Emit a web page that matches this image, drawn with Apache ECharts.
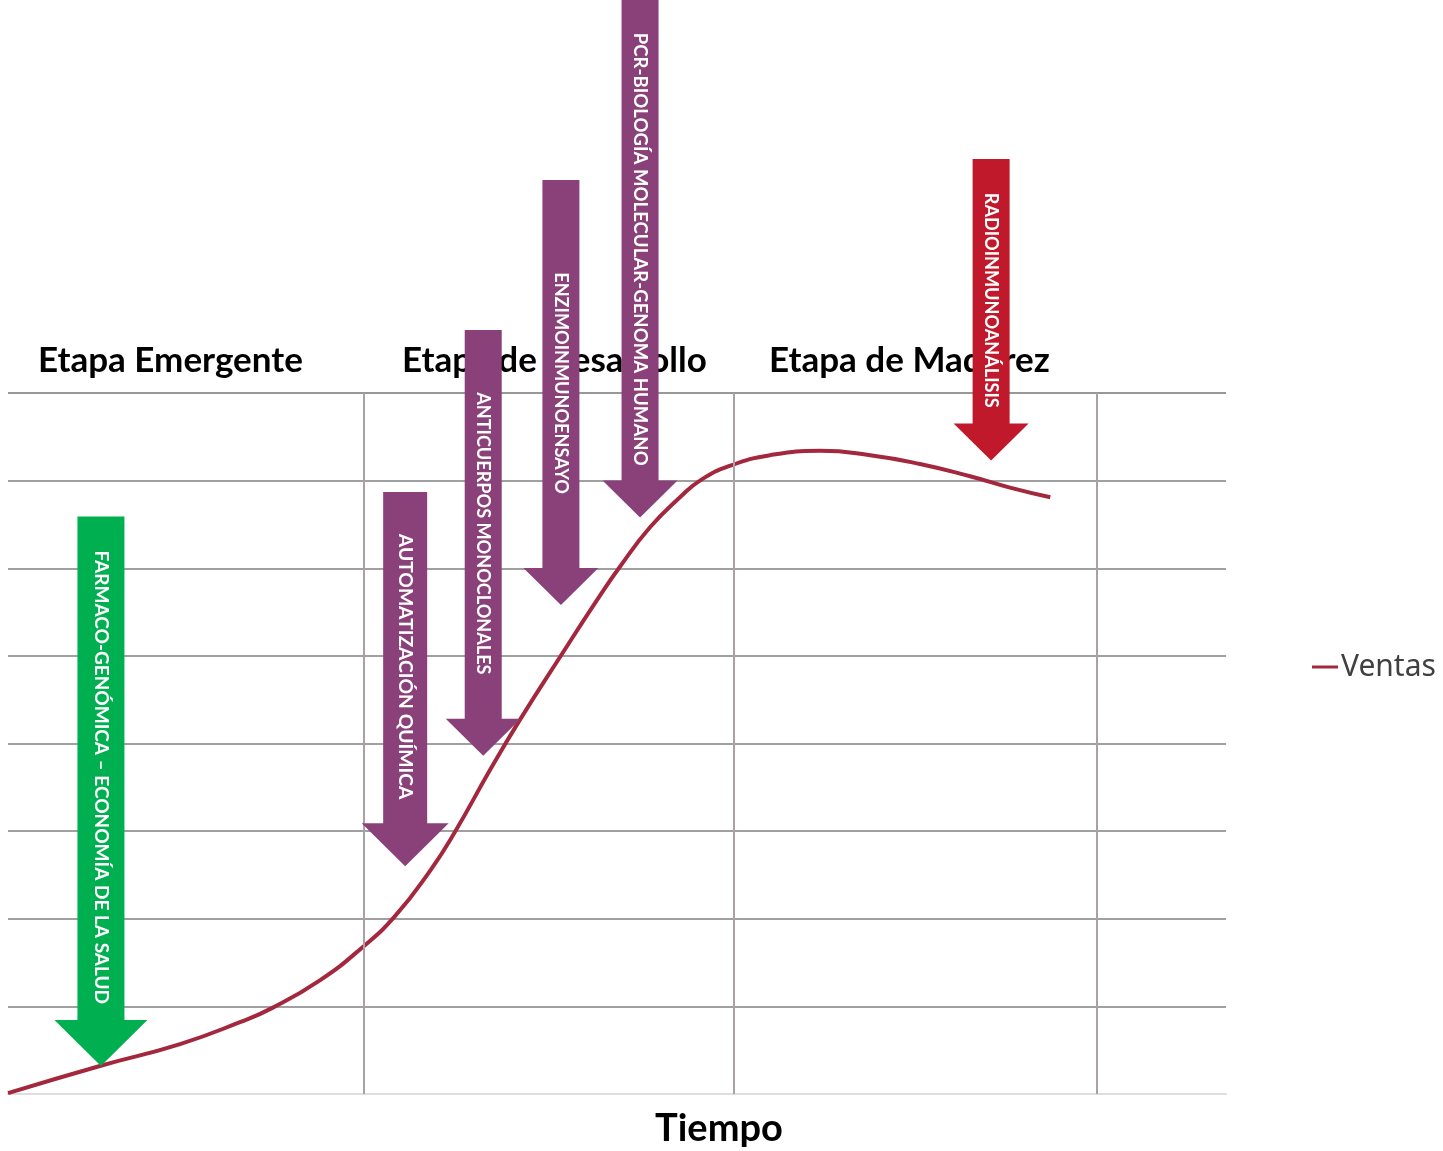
<!DOCTYPE html>
<html><head><meta charset="utf-8">
<script src="https://cdn.jsdelivr.net/npm/echarts@6/dist/echarts.min.js"></script>
<style>html,body{margin:0;padding:0;background:#fff}#c{width:1443px;height:1151px}</style>
</head><body><div id="c"></div>
<script>
// ---- data ----
const timeX  = [0, 0.253, 0.474, 0.639, 0.727, 0.860, 0.975, 1.066, 1.163, 1.231, 1.328, 1.410, 1.521, 1.631, 1.686, 1.769, 1.851, 1.906, 1.989, 2.099, 2.237, 2.375, 2.512, 2.650, 2.760, 2.871];
const ventas = [0.01, 0.32, 0.57, 0.82, 0.98, 1.30, 1.67, 2.03, 2.55, 2.99, 3.70, 4.27, 4.99, 5.69, 6.02, 6.47, 6.81, 7.00, 7.17, 7.29, 7.34, 7.29, 7.19, 7.05, 6.92, 6.81];
const seriesName = 'Ventas';
const stageBounds = [0.981, 2.003, 3.0];
const stageNames = ['Etapa Emergente', 'Etapa de Desarrollo', 'Etapa de Madurez'];
const axisTitle = 'Tiempo';
const arrowLabels = ['FARMACO-GENÓMICA – ECONOMÍA DE LA SALUD', 'AUTOMATIZACIÓN QUÍMICA', 'ANTICUERPOS MONOCLONALES', 'ENZIMOINMUNOENSAYO', 'PCR-BIOLOGÍA MOLECULAR-GENOMA HUMANO', 'RADIOINMUNOANÁLISIS'];
const arrowX   = [0.256, 1.094, 1.309, 1.523, 1.741, 2.708];
const arrowTop = [6.59, 6.87, 8.72, 10.43, 12.52, 10.67];
const arrowTip = [0.32, 2.60, 3.86, 5.58, 6.58, 7.23];

// ---- styles ----
const arrowColor = ['#00b050', '#8a4079', '#8a4079', '#8a4079', '#8a4079', '#c0192b'];
const arrowSize = [ // shaft width, head width, head height
  [47, 93, 46], [44, 87, 43], [37, 75, 37], [37, 75, 37], [37, 75, 37], [37, 75, 37]
];
const arrowFont = [19, 19.3, 18.1, 18.1, 18.6, 18.1];

const chart = echarts.init(document.getElementById('c'), null, {renderer: 'canvas'});
const base = {
  animation: false,
  backgroundColor: '#ffffff',
  grid: {left: 8, right: 217, top: 393, bottom: 57},
  legend: {
    data: [seriesName], left: 1307, top: 647, icon: 'rect', itemWidth: 26, itemHeight: 3, itemGap: 4,
    textStyle: {fontFamily: 'Noto Sans', fontSize: 30, color: '#404040', padding: [0, 0, 0, -2]}
  },
  xAxis: {
    type: 'value', min: 0, max: 3.355, interval: 1,
    axisLabel: {show: false}, axisTick: {show: false},
    axisLine: {show: true, lineStyle: {color: '#dedede', width: 2}},
    splitLine: {show: false}
  },
  yAxis: {
    type: 'value', min: 0, max: 8, interval: 1,
    axisLabel: {show: false}, axisTick: {show: false}, axisLine: {show: false},
    splitLine: {show: true, lineStyle: {color: ['#dedede', '#a0a0a0', '#a0a0a0', '#a0a0a0', '#a0a0a0', '#a0a0a0', '#a0a0a0', '#a0a0a0', '#989898'], width: 2}}
  },
  series: [{
    name: seriesName, type: 'line', smooth: 0.5, showSymbol: false, symbol: 'none',
    data: timeX.map((x, i) => [x, ventas[i]]),
    lineStyle: {color: '#a3283e', width: 4},
    itemStyle: {color: '#a3283e'},
    emphasis: {disabled: true},
    markLine: {
      silent: true, symbol: ['none', 'none'], label: {show: false},
      lineStyle: {color: '#aaa0a6', width: 2, type: 'solid'},
      data: stageBounds.map(v => ({xAxis: v}))
    }
  }]
};
chart.setOption(base);

const g = [];
// stage labels
const stageLeft = [38, 402, 769];
stageNames.forEach((s, i) => {
  g.push({type: 'text', x: stageLeft[i], y: 361, z: 10,
    style: {text: s, fill: '#000', font: 'bold 35px Lato', align: 'left', verticalAlign: 'middle'}});
});
g.push({type: 'text', x: 719, y: 1129, z: 10,
  style: {text: axisTitle, fill: '#000', font: 'bold 38px Lato', align: 'center', verticalAlign: 'middle'}});

arrowLabels.forEach((lab, i) => {
  const [cx, top] = chart.convertToPixel({gridIndex: 0}, [arrowX[i], arrowTop[i]]);
  const tip = chart.convertToPixel({gridIndex: 0}, [arrowX[i], arrowTip[i]])[1];
  const [sw, hw, hh] = arrowSize[i];
  const shaftBottom = tip - hh;
  g.push({type: 'rect', z: 20, shape: {x: cx - sw / 2, y: top, width: sw, height: shaftBottom - top + 1},
    style: {fill: arrowColor[i]}});
  g.push({type: 'polygon', z: 20, shape: {points: [[cx - hw / 2, shaftBottom], [cx + hw / 2, shaftBottom], [cx, tip]]},
    style: {fill: arrowColor[i]}});
  const midY = (Math.max(top, 0) + shaftBottom) / 2 + 9;
  g.push({type: 'text', z: 21, x: cx, y: midY, rotation: -Math.PI / 2,
    style: {text: lab, fill: '#ffffff', font: 'bold ' + arrowFont[i] + 'px Lato', align: 'center', verticalAlign: 'middle'}});
});
chart.setOption({graphic: g});
</script></body></html>
